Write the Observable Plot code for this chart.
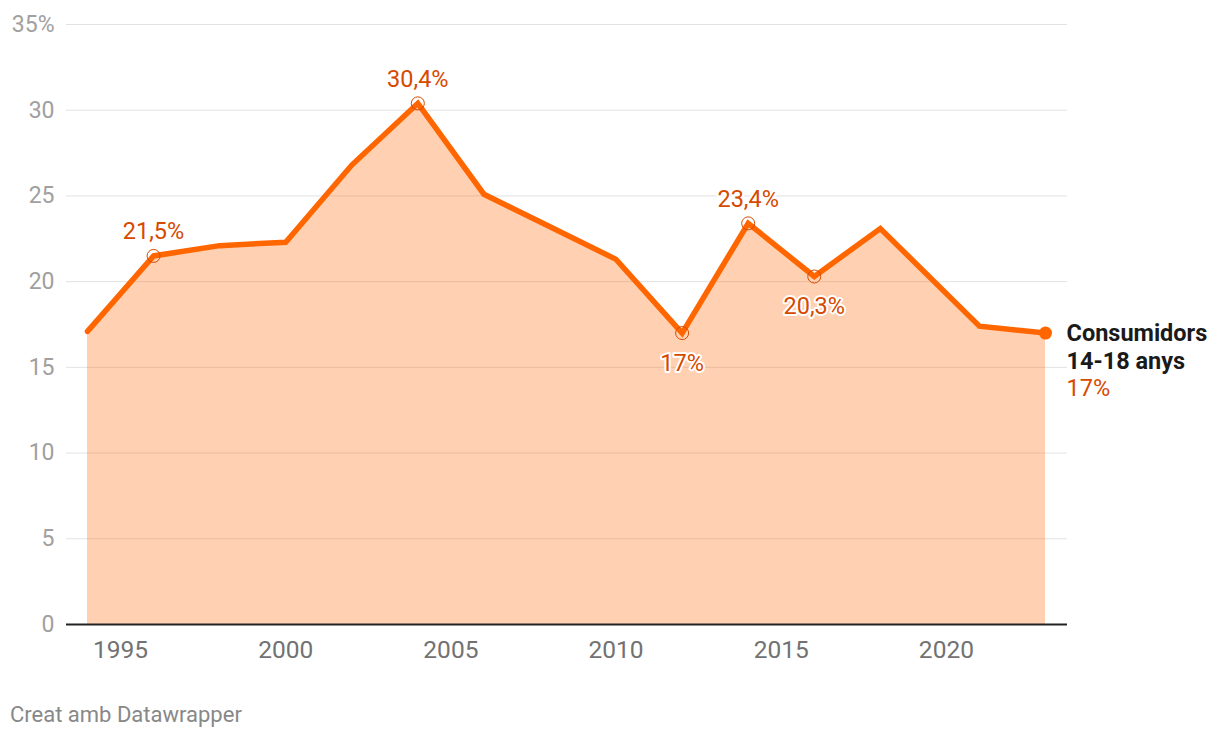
<!DOCTYPE html>
<html>
<head>
<meta charset="utf-8">
<script src="https://cdn.jsdelivr.net/npm/d3@7"></script>
<script src="https://cdn.jsdelivr.net/npm/@observablehq/plot@0.6"></script>
<style>
  html, body { margin: 0; padding: 0; background: #fff; }
  body { width: 1220px; height: 740px; position: relative; font-family: Roboto, sans-serif; }
  #chart svg { display: block; }
  #caption { position: absolute; left: 10px; top: 702px; font-size: 22px; color: #888; font-family: Roboto, sans-serif; }
</style>
</head>
<body>
<div id="chart"></div>
<div id="caption">Creat amb Datawrapper</div>
<script>
const years  = [1994, 1996, 1998, 2000, 2002, 2004, 2006, 2008, 2010, 2012, 2014, 2016, 2018, 2021, 2023];
const values = [17.1, 21.5, 22.1, 22.3, 26.8, 30.4, 25.1, 23.2, 21.3, 17.0, 23.4, 20.3, 23.1, 17.4, 17.0];
const yTicks = [0, 5, 10, 15, 20, 25, 30, 35];
const xTicks = [1995, 2000, 2005, 2010, 2015, 2020];
const annoAboveYears = [1996, 2004, 2014];
const annoBelowYears = [2012, 2016];
const seriesName = ["Consumidors", "14-18 anys"];

const fmt = v => String(v).replace(".", ",") + "%";
const data = years.map((y, i) => ({year: y, value: values[i]}));
const above = data.filter(d => annoAboveYears.includes(d.year));
const below = data.filter(d => annoBelowYears.includes(d.year));
const last = data[data.length - 1];

const orange = "#ff6600";
const labelOrange = "#d64a00";

const chart = Plot.plot({
  width: 1220,
  height: 680,
  marginLeft: 66,
  marginRight: 153,
  marginTop: 24,
  marginBottom: 56,
  style: {fontFamily: "Roboto, sans-serif", fontSize: "22px", background: "white", overflow: "visible"},
  x: {domain: [1994, 2023], range: [87, 1045]},
  y: {domain: [0, 35], range: [624, 24]},
  marks: [
    Plot.ruleY(yTicks.filter(t => t > 0), {stroke: "#e2e2e2", strokeWidth: 1}),
    Plot.areaY(data, {x: "year", y: "value", fill: orange, fillOpacity: 0.3}),
    Plot.ruleY([0], {stroke: "#222", strokeWidth: 2}),
    Plot.lineY(data, {x: "year", y: "value", stroke: orange, strokeWidth: 5.5, strokeLinejoin: "miter", strokeMiterlimit: 2}),
    Plot.dot(above.concat(below), {x: "year", y: "value", r: 6.5, stroke: labelOrange, strokeWidth: 1, fill: "none"}),
    Plot.dot([last], {x: "year", y: "value", r: 6.5, fill: orange, stroke: "none"}),
    Plot.text(above, {x: "year", y: "value", text: d => fmt(d.value), dy: -24, fill: labelOrange, fontSize: 23.5, stroke: "white", strokeWidth: 4, paintOrder: "stroke"}),
    Plot.text(below, {x: "year", y: "value", text: d => fmt(d.value), dy: 30, fill: labelOrange, fontSize: 23.5, stroke: "white", strokeWidth: 4, paintOrder: "stroke"}),
    Plot.text([last], {x: "year", y: "value", text: () => seriesName[0], dx: 21, dy: 0, textAnchor: "start", fill: "#1a1a1a", fontWeight: "bold", fontSize: 23.5}),
    Plot.text([last], {x: "year", y: "value", text: () => seriesName[1], dx: 21, dy: 28, textAnchor: "start", fill: "#1a1a1a", fontWeight: "bold", fontSize: 23.5}),
    Plot.text([last], {x: "year", y: "value", text: d => fmt(d.value), dx: 21, dy: 55, textAnchor: "start", fill: labelOrange, fontSize: 23.5}),
    Plot.axisY({ticks: yTicks, tickSize: 0, tickPadding: 12, tickFormat: d => d === 35 ? "35%" : String(d), fontSize: 23, color: "#a0a0a0", label: null}),
    Plot.axisX({ticks: xTicks, tickSize: 0, tickPadding: 16, tickFormat: d => String(d), fontSize: 24.5, color: "#727272", label: null})
  ]
});
document.getElementById("chart").appendChild(chart);
</script>
</body>
</html>
